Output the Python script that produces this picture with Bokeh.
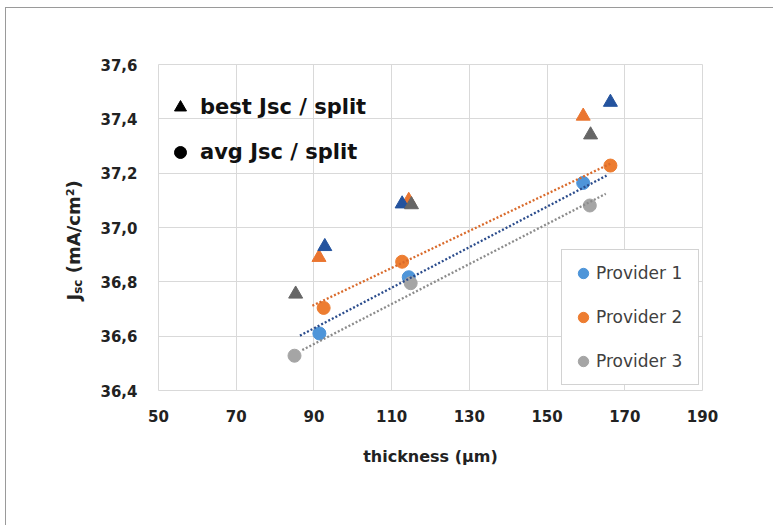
import math
from bokeh.plotting import figure
from bokeh.layouts import row
from bokeh.models import (Range1d, FixedTicker, CustomJSTickFormatter, Legend, LegendItem)
from bokeh.core.properties import value
from bokeh.embed import file_html
from bokeh.resources import INLINE

# ---------------- data ----------------
x_ticks = [50, 70, 90, 110, 130, 150, 170, 190]
y_ticks = [36.4, 36.6, 36.8, 37.0, 37.2, 37.4, 37.6]

providers = ["Provider 1", "Provider 2", "Provider 3"]

# average Jsc per split (circles)
avg_thk_p1 = [91.4, 114.4, 159.3]
avg_jsc_p1 = [36.610, 36.817, 37.164]
avg_thk_p2 = [92.5, 112.7, 166.3]
avg_jsc_p2 = [36.704, 36.874, 37.228]
avg_thk_p3 = [85.0, 114.9, 161.0]
avg_jsc_p3 = [36.528, 36.795, 37.081]

# best Jsc per split (triangles)
best_thk_p1 = [92.8, 112.7, 166.3]
best_jsc_p1 = [36.930, 37.087, 37.461]
best_thk_p2 = [91.3, 114.4, 159.3]
best_jsc_p2 = [36.890, 37.100, 37.410]
best_thk_p3 = [85.3, 115.1, 161.2]
best_jsc_p3 = [36.755, 37.084, 37.341]

# linear trend lines of the averages (ends)
trend_thk_p1 = [86.4, 165.3]
trend_jsc_p1 = [36.602, 37.191]
trend_thk_p2 = [89.6, 166.3]
trend_jsc_p2 = [36.712, 37.235]
trend_thk_p3 = [87.0, 165.1]
trend_jsc_p3 = [36.549, 37.124]

# y axis title pieces: J, subscript sc, rest
ylabel_parts = ["J", "sc", "(mA/cm²)"]

# ---------------- styles ----------------
circle_colors = ["#4E95D9", "#ED7D31", "#A5A5A5"]
tri_colors = ["#24539E", "#EA7530", "#666666"]
trend_colors = ["#2B4C8C", "#D96A2B", "#8C8C8C"]
grid_color = "#D9D9D9"
BOLD = "DejaVu Sans"

# page offsets of the grey picture frame (top / left line)
OX, OY = 6.5, 8.5
H = 517
WL = 88            # width of the strip that holds the y-axis title
WM = 767 - WL      # width of the main chart
FRAME_TOP, FRAME_BOTTOM = 64, 390          # page pixels of the plot frame
Y0, Y1 = 36.4, 37.6
PX_PER_UNIT = (FRAME_BOTTOM - FRAME_TOP) / (Y1 - Y0)

# ---------- main chart ----------
p = figure(width=WM, height=H, output_backend="svg", toolbar_location=None,
           x_range=Range1d(50, 190), y_range=Range1d(Y0, Y1),
           min_border_left=round(158 - OX - WL),
           min_border_right=WM - round(702 - OX - WL),
           min_border_top=round(FRAME_TOP - OY), min_border_bottom=H - round(FRAME_BOTTOM - OY),
           background_fill_color="white", border_fill_color="white",
           outline_line_color=grid_color, outline_line_width=1)

# ---------- strip for the y-axis title (its frame is aligned with the main frame) ----------
lab = figure(width=WL, height=H, output_backend="svg", toolbar_location=None,
             x_range=Range1d(0, WL), y_range=p.y_range,
             x_axis_type=None, y_axis_type=None, min_border=0,
             min_border_top=round(FRAME_TOP - OY), min_border_bottom=H - round(FRAME_BOTTOM - OY),
             outline_line_color=None, background_fill_color="white",
             border_fill_color="white")
lab.xgrid.visible = False
lab.ygrid.visible = False


def page_y_to_value(py):
    return Y1 - (py - FRAME_TOP) / PX_PER_UNIT


lx = 73 - OX                       # centre line of the rotated title
start_py = 300                     # page y where the title starts (bottom)
seg_dx = [0, 4.5, 0]               # subscript shifted to the baseline side
seg_up = [0, 6.7, 27.3]            # offsets along the text direction (px)
seg_size = ["18px", "12px", "18px"]
for t, dx, up, fs in zip(ylabel_parts, seg_dx, seg_up, seg_size):
    lab.text(x=[lx + dx], y=[page_y_to_value(start_py - up)], text=[t], angle=math.pi / 2,
             text_font=value(BOLD), text_font_style="bold", text_font_size=fs,
             text_align="left", text_baseline="middle", text_color="#222222")

p.xaxis.ticker = FixedTicker(ticks=x_ticks)
p.yaxis.ticker = FixedTicker(ticks=y_ticks)
p.xgrid.ticker = FixedTicker(ticks=x_ticks)
p.ygrid.ticker = FixedTicker(ticks=y_ticks)
p.yaxis.formatter = CustomJSTickFormatter(code="return tick.toFixed(1).replace('.', ',');")
for g in (p.xgrid, p.ygrid):
    g.grid_line_color = grid_color
    g.grid_line_width = 1

for ax in (p.xaxis[0], p.yaxis[0]):
    ax.axis_line_color = None
    ax.major_tick_line_color = None
    ax.minor_tick_line_color = None
    ax.major_tick_out = 0
    ax.major_tick_in = 0
    ax.major_label_text_font = BOLD
    ax.major_label_text_font_style = "bold"
    ax.major_label_text_font_size = "15px"
    ax.major_label_text_color = "#222222"
p.xaxis.major_label_standoff = 19
p.yaxis.major_label_standoff = 21

p.xaxis.axis_label = "thickness (µm)"
p.xaxis.axis_label_text_font = BOLD
p.xaxis.axis_label_text_font_style = "bold"
p.xaxis.axis_label_text_font_size = "16px"
p.xaxis.axis_label_text_color = "#222222"
p.xaxis.axis_label_standoff = 22

avg_x = [avg_thk_p1, avg_thk_p2, avg_thk_p3]
avg_y = [avg_jsc_p1, avg_jsc_p2, avg_jsc_p3]
best_x = [best_thk_p1, best_thk_p2, best_thk_p3]
best_y = [best_jsc_p1, best_jsc_p2, best_jsc_p3]
tr_x = [trend_thk_p1, trend_thk_p2, trend_thk_p3]
tr_y = [trend_jsc_p1, trend_jsc_p2, trend_jsc_p3]

circle_renderers = []
for i in range(3):
    r = p.scatter(avg_x[i], avg_y[i], marker="circle", size=13,
                  fill_color=circle_colors[i], line_color=circle_colors[i], line_width=1)
    circle_renderers.append(r)

for i in (1, 0, 2):
    p.scatter(best_x[i], best_y[i], marker="triangle", size=14,
              fill_color=tri_colors[i], line_color=tri_colors[i], line_width=1)

for i in range(3):
    p.line(tr_x[i], tr_y[i], line_color=trend_colors[i], line_width=2.3, line_dash="2 2")

# legend of providers
prov_legend = Legend(items=[LegendItem(label=providers[i], renderers=[circle_renderers[i]]) for i in range(3)],
                     location=(403, 5), orientation="vertical",
                     glyph_width=26, glyph_height=30, label_height=30, label_width=94,
                     spacing=14, padding=8, label_standoff=0, margin=0,
                     border_line_color="#A6A6A6", border_line_width=1.5,
                     background_fill_color="white", background_fill_alpha=1,
                     label_text_font="DejaVu Sans", label_text_font_size="17px",
                     label_text_color="#404040")
p.add_layout(prov_legend)

# legend of marker meaning (black symbols, no visible data point)
nan = float("nan")
sym_tri = p.scatter(x=[nan], y=[nan], marker="triangle", fill_color="black", line_color="black")
sym_circ = p.scatter(x=[nan], y=[nan], marker="circle", fill_color="black", line_color="black")
sym_legend = Legend(items=[LegendItem(label="best Jsc / split", renderers=[sym_tri]),
                           LegendItem(label="avg Jsc / split", renderers=[sym_circ])],
                    location=(7, 223), orientation="vertical",
                    glyph_width=30, glyph_height=30, label_height=30, spacing=15, padding=0,
                    label_standoff=5, margin=0,
                    border_line_color=None, background_fill_alpha=0,
                    label_text_font=BOLD, label_text_font_style="bold",
                    label_text_font_size="21px", label_text_color="#111111")
p.add_layout(sym_legend)

page = row(lab, p, spacing=0, margin=(7, 0, 0, 5),
           styles={"border-top": "1.5px solid #9A9A9A", "border-left": "1.5px solid #9A9A9A",
                   "border-right": "none", "border-bottom": "none"})

open("out.html", "w").write(file_html(page, INLINE))
